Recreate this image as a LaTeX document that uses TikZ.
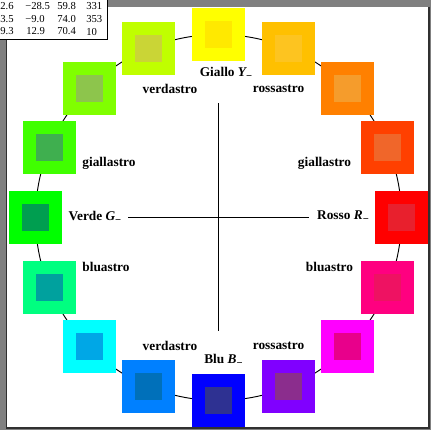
\documentclass[tikz,border=0pt]{standalone}
\usepackage{fontspec}
\setmainfont{Liberation Serif}
\definecolor{bggray}{HTML}{808080}
\definecolor{framedark}{HTML}{303030}
\newcommand{\minussub}{\raisebox{-0.45ex}{\footnotesize −}}
\begin{document}
\begin{tikzpicture}[x=0.75pt,y=-0.75pt,
  outsq/.style={draw=none,inner sep=0pt,minimum size=39.75pt},
  insq/.style={draw=none,inner sep=0pt,minimum size=20.25pt},
  lab/.style={font=\bfseries\fontsize{10}{12}\selectfont,inner sep=0pt,anchor=center},
  tab/.style={font=\fontsize{8}{9}\selectfont,inner sep=0pt},
  axis/.style={draw=black,line width=0.75pt},
  ring/.style={draw=black,line width=0.7pt}]
\useasboundingbox (0,0) rectangle (431,430);
% background and frame
\fill[bggray] (0,0) rectangle (431,430);
\fill[white] (7,6.5) rectangle (428.5,427.3);
\draw[framedark,line width=1.2pt] (6.5,6.5) -- (6.5,428) -- (429.2,428) -- (429.2,6.5);
% ring
\coordinate (ctr) at (218.5,217.5);
\draw[ring] (ctr) circle[radius=137.25pt];
% cross
\coordinate (vt) at (218.5,103);
\coordinate (vb) at (218.5,331);
\coordinate (hl) at (128,217);
\coordinate (hr) at (309,217);
\draw[axis] (vt) -- (vb);
\draw[axis] (hl) -- (hr);
% squares
\foreach \n/\a/\co/\ci in {
  0/0/FF0000/E8202D, 1/22.5/FF4000/F0662A, 2/45/FF8000/F59C2C, 3/67.5/FFC000/FDC420,
  4/90/FFFF00/FFE900, 5/112.5/C0FF00/CAD536, 6/135/80FF00/8DC54C, 7/157.5/40FF00/3FAF4F,
  8/180/00FF00/009E50, 9/202.5/00FF80/00A19E, 10/225/00FFFF/00A7E6, 11/247.5/0080FF/0070BA,
  12/270/0000FF/2E3192, 13/292.5/8000FF/8B2D8D, 14/315/FF00FF/E8008B, 15/337.5/FF0080/EE1262}{
  \definecolor{oc\n}{HTML}{\co}
  \definecolor{ic\n}{HTML}{\ci}
  \node[outsq,fill=oc\n] (s\n) at ({218.5+183*cos(\a)},{217.5-183*sin(\a)}) {};
  \node[insq,fill=ic\n] (i\n) at (s\n) {};
}
% labels
\node[lab] (lY) at (226,73) {Giallo {\itshape Y}\minussub};
\node[lab] (lvt) at (170,89) {verdastro};
\node[lab] (lrt) at (278.5,89) {rossastro};
\node[lab] (lgl) at (109,163) {giallastro};
\node[lab] (lG) at (95,217) {Verde {\itshape G}\minussub};
\node[lab] (lbl) at (106,267) {bluastro};
\node[lab] (lgr) at (324.5,163) {giallastro};
\node[lab] (lR) at (343,217) {Rosso {\itshape R}\minussub};
\node[lab] (lbr) at (329.5,267) {bluastro};
\node[lab] (lvb) at (170,346) {verdastro};
\node[lab] (lB) at (223.5,360) {Blu {\itshape B}\minussub};
\node[lab] (lrb) at (278.5,346) {rossastro};
% table
\draw[fill=white,draw=black,line width=0.75pt] (-2,-2) rectangle (107,39);
\node[tab,anchor=east] (t11) at (14,6.5) {2.6};
\node[tab,anchor=west] (t12) at (25,6.5) {−28.5};
\node[tab,anchor=west] (t13) at (57,6.5) {59.8};
\node[tab,anchor=west] (t14) at (86,6.5) {331};
\node[tab,anchor=east] (t21) at (14,19) {3.5};
\node[tab,anchor=west] (t22) at (25,19) {−9.0};
\node[tab,anchor=west] (t23) at (57,19) {74.0};
\node[tab,anchor=west] (t24) at (86,19) {353};
\node[tab,anchor=east] (t31) at (14,31.5) {9.3};
\node[tab,anchor=west] (t32) at (26,31.5) {12.9};
\node[tab,anchor=west] (t33) at (57,31.5) {70.4};
\node[tab,anchor=west] (t34) at (86,31.5) {10};
\end{tikzpicture}
\end{document}
